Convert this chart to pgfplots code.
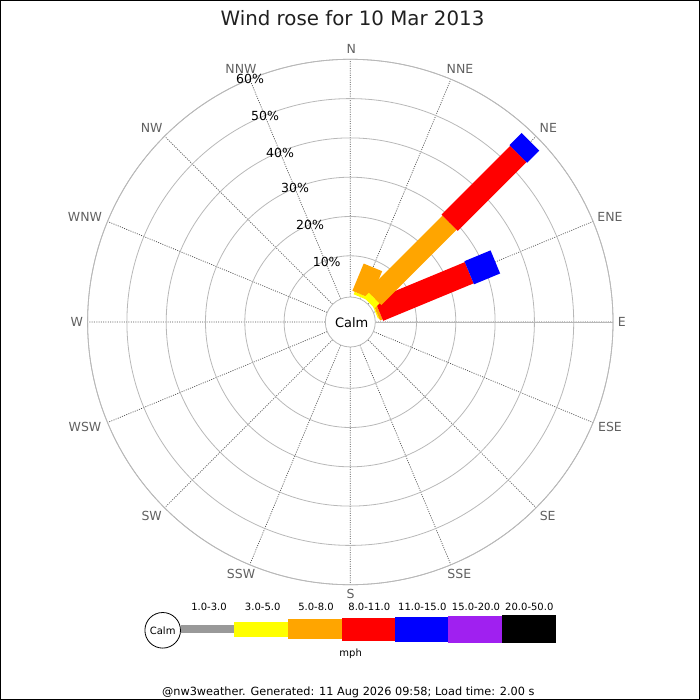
\documentclass[border=0pt]{standalone}
\usepackage{fontspec}
\setmainfont{DejaVu Sans}
\usepackage{pgfplots}
\pgfplotsset{compat=1.18}
\usepgfplotslibrary{polar}
\definecolor{ringgray}{HTML}{B8B8B8}
\definecolor{spokegray}{HTML}{505050}
\definecolor{labgray}{HTML}{606060}
\definecolor{cyel}{HTML}{FFFF00}
\definecolor{corange}{HTML}{FFA500}
\definecolor{cred}{HTML}{FF0000}
\definecolor{cblue}{HTML}{0000FF}
\definecolor{cpurple}{HTML}{A020F0}
\definecolor{cgray}{HTML}{999999}
\definecolor{titlecol}{HTML}{202020}
\pgfplotsset{
  seg/.style={mark=none, line cap=butt, forget plot,
    x filter/.expression={90-x}, y filter/.expression={y+6.845}},
}
\begin{document}
\begin{tikzpicture}
\useasboundingbox (0pt,0pt) rectangle (700pt,-700pt);
\begin{polaraxis}[
  at={(350.3pt,-322pt)}, anchor=center,
  scale only axis, width=525.4pt, height=525.4pt,
  xmin=0, xmax=360, ymin=0, ymax=66.845,
  xtick={0,22.5,...,337.5},
  ytick={16.845,26.845,36.845,46.845,56.845,66.845},
  xticklabels={}, yticklabels={},
  major tick length=0pt,
  xmajorgrids, ymajorgrids,
  x grid style={spokegray, line width=0.7pt, dash pattern=on 1pt off 1.3pt},
  y grid style={ringgray, line width=0.8pt},
  axis line style={ringgray, line width=0.8pt},
]
\draw[ringgray, line width=0.8pt, fill=white] (axis cs:0,0) circle[radius=25pt];
% NNE
\addplot[seg, cyel, line width=15pt] coordinates {(22.5,0) (22.5,0.7)};
\addplot[seg, corange, line width=20pt] coordinates {(22.5,0.7) (22.5,8.2)};
% ENE
\addplot[seg, cyel, line width=15pt] coordinates {(67.5,0) (67.5,0.3)};
\addplot[seg, corange, line width=20pt] coordinates {(67.5,0.3) (67.5,1.0)};
\addplot[seg, cred, line width=23pt] coordinates {(67.5,1.0) (67.5,25.9)};
\addplot[seg, cblue, line width=25pt] coordinates {(67.5,25.9) (67.5,33.1)};
% NE
\addplot[seg, cyel, line width=15pt] coordinates {(45,0) (45,1.8)};
\addplot[seg, corange, line width=20pt] coordinates {(45,1.8) (45,28.9)};
\addplot[seg, cred, line width=23pt] coordinates {(45,28.9) (45,53.6)};
\addplot[seg, cblue, line width=25pt] coordinates {(45,53.6) (45,58.0)};
\end{polaraxis}
\begin{scope}[x=1pt,y=-1pt]
\node[inner sep=0pt, text=titlecol, font=\fontsize{19.8}{23}\selectfont] at (352.5,18) {Wind rose for 10 Mar 2013};
\node[inner sep=0pt, font=\fontsize{13}{15}\selectfont] at (351.7,322.3) {Calm};
\begin{scope}[every node/.style={inner sep=0pt, text=labgray, font=\fontsize{12.5}{15}\selectfont}]
\node at (351.2,49.3) {N};
\node at (460,69.3) {NNE};
\node at (548.3,127.7) {NE};
\node at (610,216.5) {ENE};
\node at (621.7,322) {E};
\node at (610,426.7) {ESE};
\node at (547.7,516) {SE};
\node at (459.3,574) {SSE};
\node at (350.7,594.3) {S};
\node at (241,574) {SSW};
\node at (151.7,516) {SW};
\node at (85,427.3) {WSW};
\node at (76.7,321.7) {W};
\node at (85,216.7) {WNW};
\node at (151.7,127.7) {NW};
\node at (241,69.3) {NNW};
\end{scope}
\begin{scope}[every node/.style={inner sep=0pt, text=black, font=\fontsize{12.5}{15}\selectfont}]
\node at (326.7,261.7) {10\%};
\node at (310,225) {20\%};
\node at (295,188.3) {30\%};
\node at (280,152.7) {40\%};
\node at (265,116) {50\%};
\node at (250,79.3) {60\%};
\end{scope}
% legend
\fill[cgray] (181,625.2) rectangle (234.3,632.8);
\fill[cyel] (234.3,621.7) rectangle (287.7,636.7);
\fill[corange] (287.7,619) rectangle (341.7,639.3);
\fill[cred] (341.7,617.7) rectangle (395,640.7);
\fill[cblue] (395,616.7) rectangle (448.3,641.7);
\fill[cpurple] (448.3,615.7) rectangle (501.7,642.7);
\fill[black] (501.7,614.7) rectangle (556,643.3);
\draw[black, line width=0.8pt, fill=white] (162.7,630.3) circle[radius=17.8];
\begin{scope}[every node/.style={inner sep=0pt, text=black, font=\fontsize{10}{12}\selectfont}]
\node at (162.7,630.3) {Calm};
\node at (209,606.7) {1.0-3.0};
\node at (262.7,606.7) {3.0-5.0};
\node at (316,606.7) {5.0-8.0};
\node at (369.3,606.7) {8.0-11.0};
\node at (422.3,606.7) {11.0-15.0};
\node at (476,606.7) {15.0-20.0};
\node at (529.3,606.7) {20.0-50.0};
\node at (350.7,654) {mph};
\node[font=\fontsize{11.3}{13}\selectfont] at (348.3,692.5) {@nw3weather. Generated: 11 Aug 2026 09:58; Load time: 2.00 s};
\end{scope}
\draw[black, line width=1pt] (0.5,0.5) rectangle (699.5,699.5);
\end{scope}
\end{tikzpicture}
\end{document}
